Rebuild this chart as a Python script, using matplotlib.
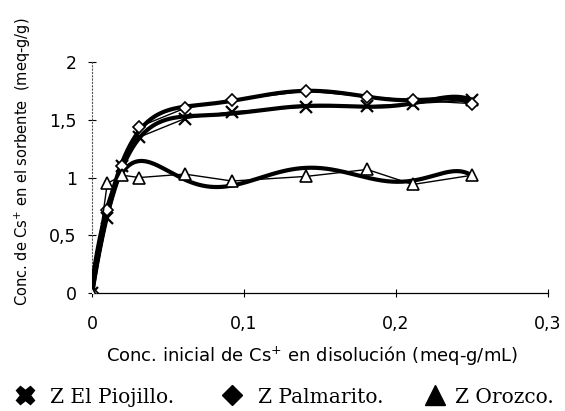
import numpy as np
import matplotlib
matplotlib.use("Agg")
import matplotlib.pyplot as plt
from matplotlib.lines import Line2D

x_conc = [0.0, 0.010, 0.020, 0.031, 0.061, 0.092, 0.141, 0.181, 0.211, 0.250]
piojillo = [0.0, 0.65, 1.10, 1.35, 1.51, 1.57, 1.61, 1.62, 1.64, 1.67]
palmarito = [0.0, 0.72, 1.10, 1.44, 1.60, 1.67, 1.75, 1.70, 1.67, 1.64]
orozco = [0.0, 0.95, 1.02, 1.00, 1.03, 0.97, 1.01, 1.07, 0.94, 1.02]

series_names = ["Z El Piojillo.", "Z Palmarito.", "Z Orozco."]
xticks = [0, 0.1, 0.2, 0.3]
xtick_labels = ["0", "0,1", "0,2", "0,3"]
yticks = [0, 0.5, 1, 1.5, 2]
ytick_labels = ["0", "0,5", "1", "1,5", "2"]

plt.rcParams['font.family'] = ['DejaVu Sans']

fig = plt.figure(figsize=(5.65, 4.11), dpi=100)
ax = fig.add_axes([0.163, 0.287, 0.807, 0.562])

xs = np.array(x_conc)
xfine = np.linspace(0, 0.25, 300)
markers = [dict(marker='x', ms=8, mew=1.6, mfc='black'),
           dict(marker='D', ms=6, mew=1.2, mfc='white'),
           dict(marker='^', ms=8, mew=1.2, mfc='white')]
for ys, mk in zip([piojillo, palmarito, orozco], markers):
    ys = np.array(ys)
    # thin data line
    ax.plot(xs, ys, color='black', lw=1.0, mec='black', zorder=4, **mk)
    # thick trend curve (polynomial fit)
    coef = np.polyfit(xs, ys, 6)
    ax.plot(xfine, np.polyval(coef, xfine), color='black', lw=3.0, zorder=3,
            solid_capstyle='round')

ax.set_xlim(0, 0.3)
ax.set_ylim(0, 2.0)
ax.set_xticks(xticks)
ax.set_xticklabels(xtick_labels)
ax.set_yticks(yticks)
ax.set_yticklabels(ytick_labels)
ax.tick_params(direction='inout', length=6, width=0.8, labelsize=12.5)
ax.tick_params(axis='x', pad=13)
ax.tick_params(axis='y', pad=8)
for s in ['top', 'right']:
    ax.spines[s].set_visible(False)
ax.spines['bottom'].set_color('black')
ax.spines['bottom'].set_linewidth(0.9)
ax.spines['left'].set_linestyle((0, (1, 2)))
ax.spines['left'].set_color('#555555')
ax.spines['left'].set_linewidth(0.8)

ax.set_xlabel("Conc. inicial de Cs$^{+}$ en disolución (meq-g/mL)", fontsize=13,
              labelpad=8, x=0.482)
ax.set_ylabel("Conc. de Cs$^{+}$ en el sorbente  (meq-g/g)", fontsize=10.5,
              labelpad=12, y=0.567)

legend_handles = [Line2D([], [], ls='none', marker='X', ms=13, color='black'),
                  Line2D([], [], ls='none', marker='D', ms=10, color='black'),
                  Line2D([], [], ls='none', marker='^', ms=14, color='black')]
W = 565.0
anchors_px = [15, 222, 425]
text_pads = [0.75, 0.8, 0.5]
for h, name, ax_px, tp in zip(legend_handles, series_names, anchors_px, text_pads):
    leg = fig.legend([h], [name], loc='center left', bbox_to_anchor=(ax_px / W, 0.034),
                     frameon=False, prop={'family': 'DejaVu Serif', 'size': 14.5},
                     handletextpad=tp, handlelength=1.0, borderpad=0, borderaxespad=0)

fig.savefig("out.png", dpi=100)
